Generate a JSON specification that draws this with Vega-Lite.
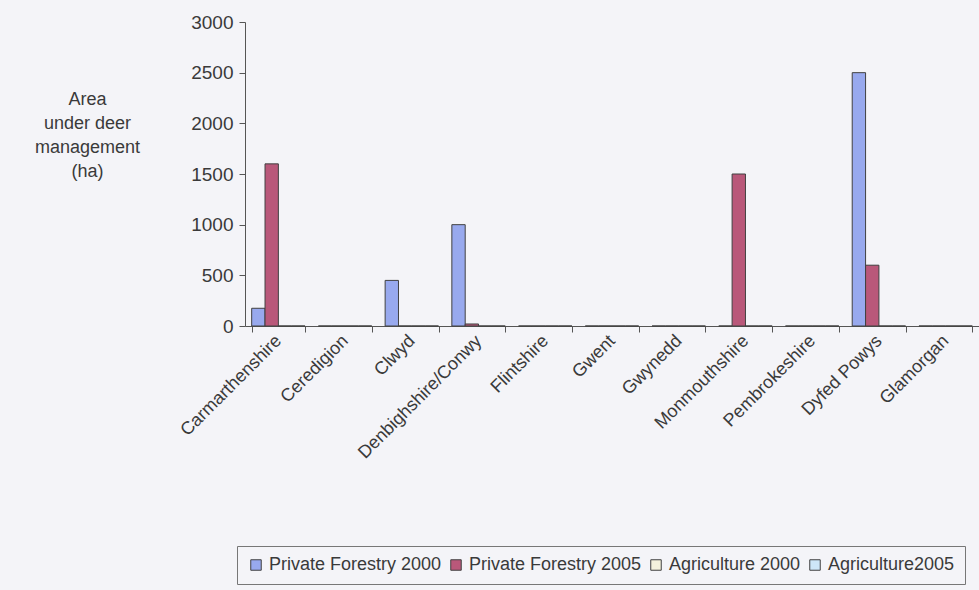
{
  "$schema": "https://vega.github.io/schema/vega-lite/v6.json",
  "width": 734,
  "height": 304,
  "autosize": {"type": "none"},
  "padding": {"left": 245, "top": 22, "right": 0, "bottom": 264},
  "background": "#f4f4f8",
  "config": {"view": {"stroke": null}, "font": "Liberation Sans"},
  "data": {
    "values": [
      {"region": "Carmarthenshire", "series": "Private Forestry 2000", "area": 175},
      {"region": "Carmarthenshire", "series": "Private Forestry 2005", "area": 1600},
      {"region": "Carmarthenshire", "series": "Agriculture 2000", "area": 0},
      {"region": "Carmarthenshire", "series": "Agriculture2005", "area": 0},
      {"region": "Ceredigion", "series": "Private Forestry 2000", "area": 0},
      {"region": "Ceredigion", "series": "Private Forestry 2005", "area": 0},
      {"region": "Ceredigion", "series": "Agriculture 2000", "area": 0},
      {"region": "Ceredigion", "series": "Agriculture2005", "area": 0},
      {"region": "Clwyd", "series": "Private Forestry 2000", "area": 450},
      {"region": "Clwyd", "series": "Private Forestry 2005", "area": 0},
      {"region": "Clwyd", "series": "Agriculture 2000", "area": 0},
      {"region": "Clwyd", "series": "Agriculture2005", "area": 0},
      {"region": "Denbighshire/Conwy", "series": "Private Forestry 2000", "area": 1000},
      {"region": "Denbighshire/Conwy", "series": "Private Forestry 2005", "area": 20},
      {"region": "Denbighshire/Conwy", "series": "Agriculture 2000", "area": 0},
      {"region": "Denbighshire/Conwy", "series": "Agriculture2005", "area": 0},
      {"region": "Flintshire", "series": "Private Forestry 2000", "area": 0},
      {"region": "Flintshire", "series": "Private Forestry 2005", "area": 0},
      {"region": "Flintshire", "series": "Agriculture 2000", "area": 0},
      {"region": "Flintshire", "series": "Agriculture2005", "area": 0},
      {"region": "Gwent", "series": "Private Forestry 2000", "area": 0},
      {"region": "Gwent", "series": "Private Forestry 2005", "area": 0},
      {"region": "Gwent", "series": "Agriculture 2000", "area": 0},
      {"region": "Gwent", "series": "Agriculture2005", "area": 0},
      {"region": "Gwynedd", "series": "Private Forestry 2000", "area": 0},
      {"region": "Gwynedd", "series": "Private Forestry 2005", "area": 0},
      {"region": "Gwynedd", "series": "Agriculture 2000", "area": 0},
      {"region": "Gwynedd", "series": "Agriculture2005", "area": 0},
      {"region": "Monmouthshire", "series": "Private Forestry 2000", "area": 0},
      {"region": "Monmouthshire", "series": "Private Forestry 2005", "area": 1500},
      {"region": "Monmouthshire", "series": "Agriculture 2000", "area": 0},
      {"region": "Monmouthshire", "series": "Agriculture2005", "area": 0},
      {"region": "Pembrokeshire", "series": "Private Forestry 2000", "area": 0},
      {"region": "Pembrokeshire", "series": "Private Forestry 2005", "area": 0},
      {"region": "Pembrokeshire", "series": "Agriculture 2000", "area": 0},
      {"region": "Pembrokeshire", "series": "Agriculture2005", "area": 0},
      {"region": "Dyfed Powys", "series": "Private Forestry 2000", "area": 2500},
      {"region": "Dyfed Powys", "series": "Private Forestry 2005", "area": 600},
      {"region": "Dyfed Powys", "series": "Agriculture 2000", "area": 0},
      {"region": "Dyfed Powys", "series": "Agriculture2005", "area": 0},
      {"region": "Glamorgan", "series": "Private Forestry 2000", "area": 0},
      {"region": "Glamorgan", "series": "Private Forestry 2005", "area": 0},
      {"region": "Glamorgan", "series": "Agriculture 2000", "area": 0},
      {"region": "Glamorgan", "series": "Agriculture2005", "area": 0}
    ]
  },
  "mark": {"type": "bar", "stroke": "#404040", "strokeWidth": 1},
  "encoding": {
    "x": {
      "field": "region",
      "type": "nominal",
      "sort": null,
      "scale": {"paddingInner": 0.2, "paddingOuter": 0.1},
      "axis": {
        "title": null,
        "tickBand": "extent",
        "tickSize": 6,
        "tickColor": "#555555",
        "domainColor": "#555555",
        "labelAngle": -45,
        "labelAlign": "right",
        "labelBaseline": "middle",
        "labelFontSize": 18,
        "labelColor": "#3a3a3a",
        "labelPadding": 6,
        "labelOverlap": false,
        "labelLimit": 0
      }
    },
    "xOffset": {
      "field": "series",
      "sort": ["Private Forestry 2000", "Private Forestry 2005", "Agriculture 2000", "Agriculture2005"]
    },
    "y": {
      "field": "area",
      "type": "quantitative",
      "scale": {"domain": [0, 3000]},
      "axis": {
        "values": [0, 500, 1000, 1500, 2000, 2500, 3000],
        "format": "d",
        "grid": false,
        "tickSize": 6,
        "tickColor": "#555555",
        "domainColor": "#555555",
        "labelFontSize": 19,
        "labelColor": "#3a3a3a",
        "labelPadding": 6,
        "title": ["Area", "under deer", "management", "(ha)"],
        "titleAngle": 0,
        "titleAlign": "center",
        "titleBaseline": "top",
        "titleX": -158,
        "titleY": 68,
        "titleFontSize": 18,
        "titleFontWeight": "normal",
        "titleColor": "#3a3a3a",
        "titleLineHeight": 24
      }
    },
    "color": {
      "field": "series",
      "type": "nominal",
      "sort": ["Private Forestry 2000", "Private Forestry 2005", "Agriculture 2000", "Agriculture2005"],
      "scale": {
        "domain": ["Private Forestry 2000", "Private Forestry 2005", "Agriculture 2000", "Agriculture2005"],
        "range": ["#98a9ee", "#b9587a", "#f4f2dc", "#cde6f8"]
      },
      "legend": {
        "title": null,
        "orient": "none",
        "legendX": -8,
        "legendY": 524,
        "direction": "horizontal",
        "strokeColor": "#777777",
        "padding": 10,
        "labelFontSize": 18,
        "labelLimit": 0,
        "labelColor": "#3a3a3a",
        "symbolType": "square",
        "symbolSize": 110,
        "symbolStrokeColor": "#404040",
        "symbolStrokeWidth": 1,
        "columnPadding": 5,
        "labelOffset": 4
      }
    }
  }
}
